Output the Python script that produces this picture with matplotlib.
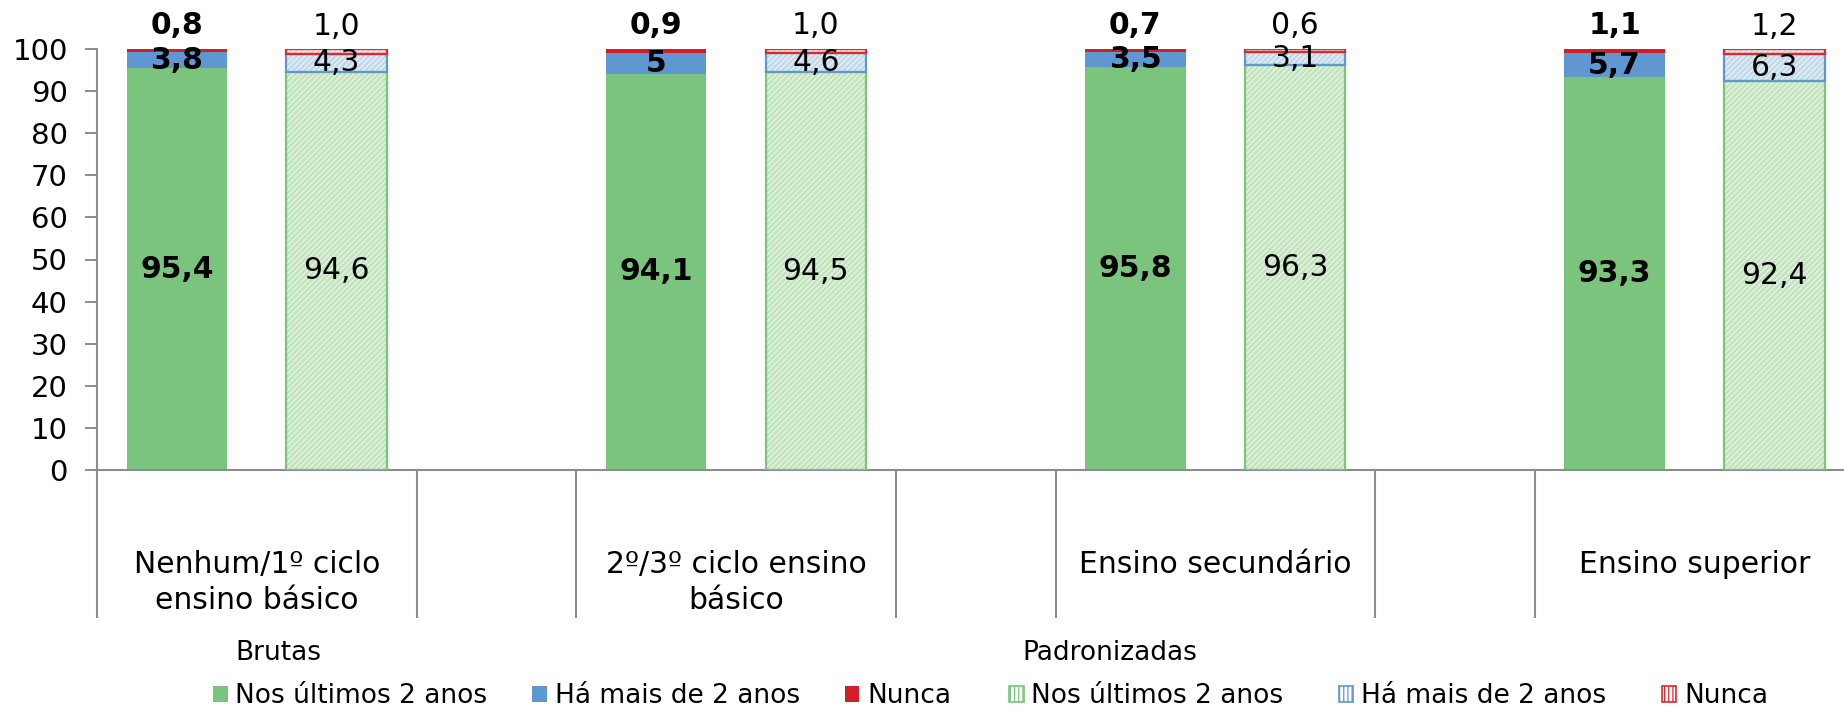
import matplotlib
matplotlib.use("Agg")
import matplotlib.pyplot as plt
from matplotlib.patches import Patch
import matplotlib.transforms as mtransforms

plt.rcParams["font.family"] = ["DejaVu Sans"]
plt.rcParams["hatch.linewidth"] = 0.9

# ── Data ────────────────────────────────────────────────────────────────
categories = ["Nenhum/1º ciclo\nensino básico", "2º/3º ciclo ensino\nbásico",
              "Ensino secundário", "Ensino superior"]
series = ["Nos últimos 2 anos", "Há mais de 2 anos", "Nunca"]

brutas_recent = [95.4, 94.1, 95.8, 93.3]
brutas_older  = [3.8, 5.0, 3.5, 5.7]
brutas_never  = [0.8, 0.9, 0.7, 1.1]
brutas_lbl_recent = ["95,4", "94,1", "95,8", "93,3"]
brutas_lbl_older  = ["3,8", "5", "3,5", "5,7"]
brutas_lbl_never  = ["0,8", "0,9", "0,7", "1,1"]

padron_recent = [94.6, 94.5, 96.3, 92.4]
padron_older  = [4.3, 4.6, 3.1, 6.3]
padron_never  = [1.0, 1.0, 0.6, 1.2]
padron_lbl_recent = ["94,6", "94,5", "96,3", "92,4"]
padron_lbl_older  = ["4,3", "4,6", "3,1", "6,3"]
padron_lbl_never  = ["1,0", "1,0", "0,6", "1,2"]

# ── Style ───────────────────────────────────────────────────────────────
SOLID = ["#7bc47e", "#5f97d1", "#d01f26"]
LIGHT = ["#c2e3be", "#c3d8f0", "#f5c9cb"]
EDGE  = ["#7bc47e", "#5f97d1", "#d82a30"]
GRAY  = "#8c8c8c"
W = 0.63

fig = plt.figure(figsize=(18.44, 7.09), dpi=100)
ax = fig.add_axes([97/1844, 1-470/709, (1844-97)/1844, 421/709])

xb = [g*3 for g in range(len(categories))]
xp = [g*3 + 1 for g in range(len(categories))]

# Brutas (solid)
bottom = [0]*4
for vals, c in zip([brutas_recent, brutas_older, brutas_never], SOLID):
    ax.bar(xb, vals, W, bottom=bottom, color=c, linewidth=0, zorder=2)
    bottom = [b+v for b, v in zip(bottom, vals)]

# Padronizadas (light + fine diagonal hatch)
bottom = [0]*4
for vals, lc, ec in zip([padron_recent, padron_older, padron_never], LIGHT, EDGE):
    ax.bar(xp, vals, W, bottom=bottom, facecolor=lc, edgecolor="#eaf5e8",
           hatch="//////", linewidth=0, zorder=2)
    ax.bar(xp, vals, W, bottom=bottom, fill=False, edgecolor=ec,
           linewidth=1.6, zorder=3)
    bottom = [b+v for b, v in zip(bottom, vals)]

# data labels
for i in range(4):
    ax.text(xb[i], brutas_recent[i]/2, brutas_lbl_recent[i], ha="center", va="center",
            fontsize=21.5, fontweight="bold", zorder=5)
    ax.text(xb[i], brutas_recent[i] + brutas_older[i]/2, brutas_lbl_older[i],
            ha="center", va="center", fontsize=21.5, fontweight="bold", zorder=5)
    tot = brutas_recent[i] + brutas_older[i] + brutas_never[i]
    ax.text(xb[i], tot + 5.5, brutas_lbl_never[i], ha="center", va="center",
            fontsize=21.5, fontweight="bold", zorder=5, clip_on=False)

    ax.text(xp[i], padron_recent[i]/2, padron_lbl_recent[i], ha="center", va="center",
            fontsize=21.5, zorder=5)
    ax.text(xp[i], padron_recent[i] + padron_older[i]/2, padron_lbl_older[i],
            ha="center", va="center", fontsize=21.5, zorder=5)
    tot = padron_recent[i] + padron_older[i] + padron_never[i]
    ax.text(xp[i], tot + 5.5, padron_lbl_never[i], ha="center", va="center",
            fontsize=21.5, zorder=5, clip_on=False)

# axes
ax.set_ylim(0, 100)
ax.set_xlim(-0.5, -0.5 + (1844-97)/159.75)
ax.set_yticks(range(0, 101, 10))
ax.tick_params(axis="y", labelsize=21, length=9, width=1.4, color=GRAY, pad=12)
ax.set_xticks([])
for s in ["top", "right"]:
    ax.spines[s].set_visible(False)
for s in ["left", "bottom"]:
    ax.spines[s].set_color(GRAY)
    ax.spines[s].set_linewidth(1.5)

# category separators and labels below the axis
trans = mtransforms.blended_transform_factory(ax.transData, ax.transAxes)
for xs in [-0.5, 1.5, 2.5, 4.5, 5.5, 7.5, 8.5]:
    ax.plot([xs, xs], [0, -0.352], color=GRAY, lw=1.5, transform=trans,
            clip_on=False, solid_capstyle="butt")
for g, lab in enumerate(categories):
    ax.text(g*3 + 0.5, -0.19, lab, transform=trans, ha="center", va="top",
            fontsize=21.5, linespacing=1.3)

# legends
fig.text(235/1844, 1-653/709, "Brutas", fontsize=19, va="center")
fig.text(1022/1844, 1-653/709, "Padronizadas", fontsize=19, va="center")

h_b = [Patch(facecolor=c, edgecolor=c, linewidth=0) for c in SOLID]
h_p = [Patch(facecolor="white", edgecolor=e, hatch="||||", linewidth=1.2) for e in EDGE]
common = dict(loc="center left", ncol=3, frameon=False, fontsize=19,
              handlelength=0.55, handleheight=0.55, handletextpad=0.3,
              borderpad=0, borderaxespad=0)
fig.legend(h_b, series, bbox_to_anchor=(213/1844, 1-696/709),
           columnspacing=1.7, **common)
fig.legend(h_p, series, bbox_to_anchor=(1009/1844, 1-696/709),
           columnspacing=2.1, **common)

fig.savefig("out.png", dpi=100, facecolor="white")
